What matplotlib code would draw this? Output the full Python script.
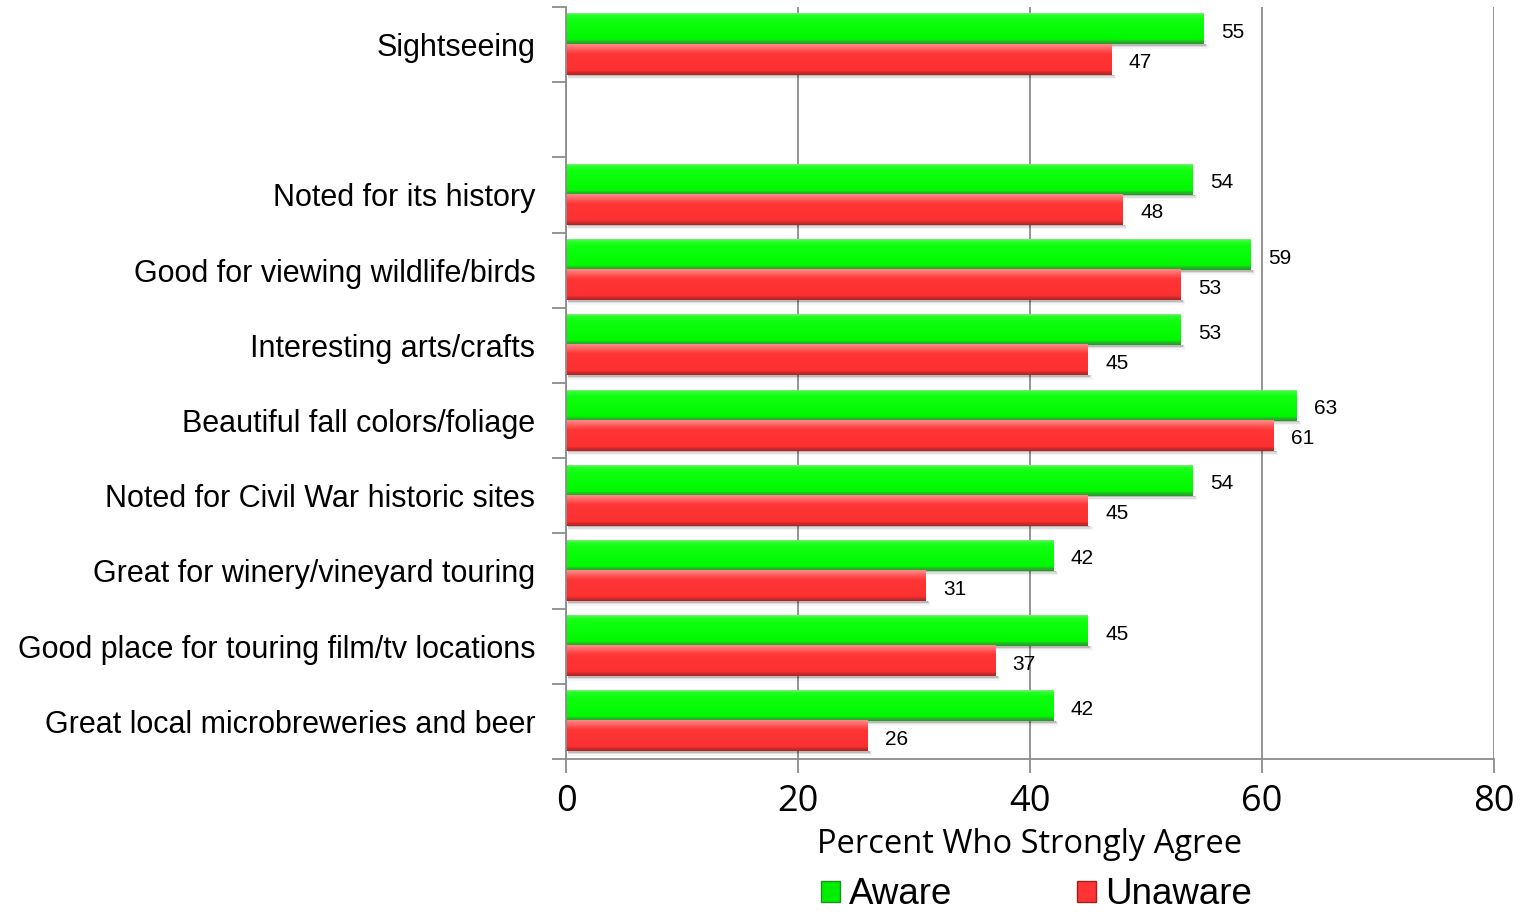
import numpy as np
import matplotlib
matplotlib.use("Agg")
import matplotlib.pyplot as plt
from matplotlib.patches import Patch
from matplotlib.colors import LinearSegmentedColormap

# Survey attributes, top to bottom (empty string = spacer row)
categories = [
    "Sightseeing",
    "",
    "Noted for its history",
    "Good for viewing wildlife/birds",
    "Interesting arts/crafts",
    "Beautiful fall colors/foliage",
    "Noted for Civil War historic sites",
    "Great for winery/vineyard touring",
    "Good place for touring film/tv locations",
    "Great local microbreweries and beer",
]
aware = [55, None, 54, 59, 53, 63, 54, 42, 45, 42]
unaware = [47, None, 48, 53, 45, 61, 45, 31, 37, 26]
x_ticks = [0, 20, 40, 60, 80]
series_names = ["Aware", "Unaware"]

fig = plt.figure(figsize=(15.29, 9.15), dpi=100)
ax = fig.add_axes([0.3702, 0.1705, 0.6069, 0.822])

n = len(categories)
bar_h = 0.4

# colour ramps listed from the top edge of a bar to its bottom edge
green_cmap = LinearSegmentedColormap.from_list(
    "g", [(0.0, "#8ae88a"), (0.05, "#30ff30"), (0.2, "#10ff10"),
          (0.85, "#00f800"), (0.91, "#20c020"), (1.0, "#2a962a")])
red_cmap = LinearSegmentedColormap.from_list(
    "r", [(0.0, "#ff8a8a"), (0.12, "#ff6a6a"), (0.3, "#ff3636"),
          (0.86, "#fc3030"), (0.92, "#d02a2a"), (1.0, "#a82626")])

grad = np.linspace(0, 1, 128).reshape(-1, 1)


def draw_bar(y_center, value, cmap):
    top = y_center - bar_h / 2
    bot = y_center + bar_h / 2
    # soft drop shadow below and to the right
    for k, a in enumerate([0.16, 0.09, 0.04]):
        ax.fill_between([0.15, value + 0.2 + 0.1 * k], bot, bot + 0.02 * (k + 1),
                        color="#000000", alpha=a, lw=0, zorder=2)
    ax.imshow(grad, cmap=cmap, aspect="auto", origin="upper",
              extent=[0, value, bot, top], zorder=3, interpolation="bilinear")


for i in range(n):
    if aware[i] is None:
        continue
    yg = i - bar_h / 2
    yr = i + bar_h / 2
    draw_bar(yg, aware[i], green_cmap)
    draw_bar(yr, unaware[i], red_cmap)
    ax.text(aware[i] + 1.5, yg + 0.04, f"{aware[i]}", va="center", ha="left",
            fontsize=15, family="Liberation Sans", color="black", zorder=5)
    ax.text(unaware[i] + 1.5, yr + 0.04, f"{unaware[i]}", va="center", ha="left",
            fontsize=15, family="Liberation Sans", color="black", zorder=5)

ax.set_xlim(0, 80)
ax.set_ylim(n - 0.5, -0.5)

# category ticks at the boundaries, labels centred in each row
ax.set_yticks(np.arange(-0.5, n, 1.0))
ax.set_yticklabels([])
ax.set_yticks(np.arange(n), minor=True)
ax.set_yticklabels(categories, minor=True, family="Liberation Sans", fontsize=22)
ax.tick_params(axis="y", which="major", length=10, width=1.3, color="#8c8c8c",
               direction="out")
ax.tick_params(axis="y", which="minor", length=0, pad=22)

ax.set_xticks(x_ticks)
ax.set_xticklabels([str(t) for t in x_ticks], family="Open Sans", fontsize=26)
ax.tick_params(axis="x", length=10, width=1.3, color="#8c8c8c", direction="out",
               pad=8)
ax.grid(axis="x", color="#8c8c8c", lw=1.3, zorder=0)
ax.set_axisbelow(True)

for s in ["top", "right"]:
    ax.spines[s].set_visible(False)
for s in ["left", "bottom"]:
    ax.spines[s].set_color("#8c8c8c")
    ax.spines[s].set_linewidth(1.3)
    ax.spines[s].set_zorder(4)

ax.set_xlabel("Percent Who Strongly Agree", family="Open Sans", fontsize=23.5,
              labelpad=6)

handles = [Patch(facecolor="#00ee00", edgecolor="#1f8f1f", lw=1),
           Patch(facecolor="#ff3333", edgecolor="#a02020", lw=1)]
fig.legend(handles, series_names, loc="center", bbox_to_anchor=(0.678, 0.022),
           ncol=2, frameon=False, prop={"family": "Liberation Sans", "size": 26.5},
           handlelength=0.5, handleheight=0.5, handletextpad=0.25,
           columnspacing=3.4, borderpad=0)

fig.savefig("out.png", dpi=100)
